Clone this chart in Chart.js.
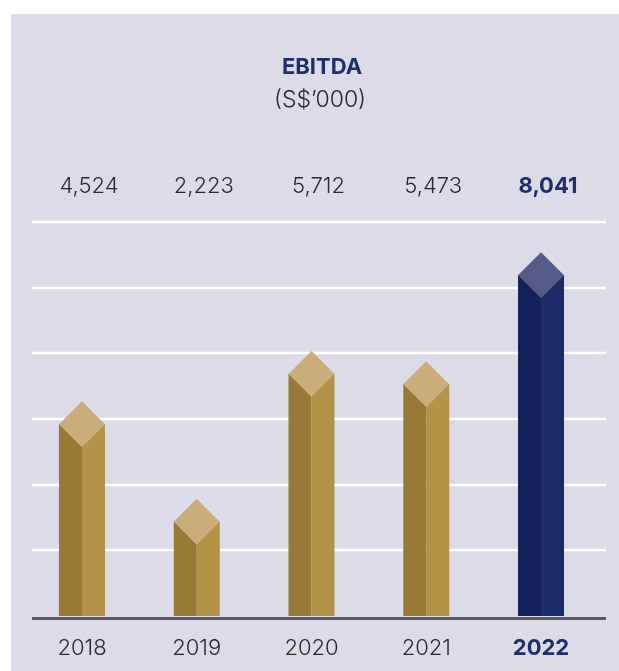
<!DOCTYPE html>
<html>
<head>
<meta charset="utf-8">
<script src="https://cdn.jsdelivr.net/npm/chart.js@4.4.1/dist/chart.umd.min.js"></script>
<style>
  html, body { margin: 0; padding: 0; background: #ffffff; }
  #wrap { position: relative; width: 619px; height: 671px; }
  canvas { display: block; }
</style>
</head>
<body>
<div id="wrap"><canvas id="c" width="619" height="671"></canvas></div>
<script>
// ---- data ----
const years = ['2018', '2019', '2020', '2021', '2022'];
const ebitda = [4524, 2223, 5712, 5473, 8041];
const valueLabels = ['4,524', '2,223', '5,712', '5,473', '8,041'];
const highlight = [false, false, false, false, true];
const chartTitle = 'EBITDA';
const chartSubtitle = '(S$\u2019000)';
const yMax = 9300;
const yStep = 1550;

// ---- styles ----
const FONT = 'Inter, Lato, "Open Sans", sans-serif';
const PANEL = '#dcdce8';
const NAVY_TEXT = '#1f2e6c';
const TEXT = '#2a2a2e';
const gold = { left: '#967a36', right: '#b39446', top: '#c9ae79' };
const navy = { left: '#14215a', right: '#1d2b68', top: '#555a89' };

const prismPlugin = {
  id: 'prism',
  beforeDraw(chart) {
    const ctx = chart.ctx;
    ctx.save();
    ctx.fillStyle = '#ffffff';
    ctx.fillRect(0, 0, chart.width, chart.height);
    ctx.fillStyle = PANEL;
    ctx.fillRect(11, 14, chart.width - 11, chart.height - 14);
    // gridlines from y scale ticks
    const ys = chart.scales.y;
    const gx0 = 32, gx1 = 606;
    ctx.strokeStyle = '#ffffff';
    ctx.lineWidth = 2.5;
    ys.ticks.forEach(t => {
      if (t.value === 0) return;
      const py = Math.round(ys.getPixelForValue(t.value));
      ctx.beginPath();
      ctx.moveTo(gx0, py);
      ctx.lineTo(gx1, py);
      ctx.stroke();
    });
    // titles
    ctx.textAlign = 'center';
    ctx.textBaseline = 'middle';
    ctx.fillStyle = NAVY_TEXT;
    ctx.font = 'bold 22px ' + FONT;
    ctx.fillText(chartTitle, 322, 67);
    ctx.fillStyle = TEXT;
    ctx.font = '300 23px ' + FONT;
    ctx.fillText(chartSubtitle, 320, 100);
    ctx.restore();
  },
  afterDatasetsDraw(chart) {
    const ctx = chart.ctx;
    const meta = chart.getDatasetMeta(0);
    const ys = chart.scales.y;
    const base = ys.getPixelForValue(0);
    ctx.save();
    meta.data.forEach((bar, i) => {
      const c = highlight[i] ? navy : gold;
      const { x, y, width } = bar.getProps(['x', 'y', 'width'], true);
      const h = width / 2;
      // faces
      ctx.fillStyle = c.left;
      ctx.fillRect(x - h, y, h, base - y);
      ctx.fillStyle = c.right;
      ctx.fillRect(x, y, h, base - y);
      // diamond top
      ctx.fillStyle = c.top;
      ctx.beginPath();
      ctx.moveTo(x, y - h);
      ctx.lineTo(x + h, y);
      ctx.lineTo(x, y + h);
      ctx.lineTo(x - h, y);
      ctx.closePath();
      ctx.fill();
      // value labels
      ctx.textAlign = 'center';
      ctx.textBaseline = 'middle';
      ctx.fillStyle = highlight[i] ? NAVY_TEXT : TEXT;
      ctx.font = (highlight[i] ? 'bold ' : '300 ') + '22px ' + FONT;
      ctx.fillText(valueLabels[i], x + 7, 186);
      // year labels
      ctx.font = (highlight[i] ? 'bold ' : '300 ') + '22px ' + FONT;
      ctx.fillText(years[i], x, 648);
    });
    // baseline
    ctx.fillStyle = '#5a5a5e';
    ctx.fillRect(32, base + 1, 574, 3);
    ctx.restore();
  }
};

new Chart(document.getElementById('c'), {
  type: 'bar',
  data: {
    labels: years,
    datasets: [{
      data: ebitda,
      backgroundColor: 'rgba(0,0,0,0)',
      borderWidth: 0,
      barThickness: 46
    }]
  },
  options: {
    responsive: false,
    animation: false,
    layout: { padding: { left: 24.6, right: 20.6, top: 222, bottom: 55 } },
    plugins: { legend: { display: false }, tooltip: { enabled: false }, title: { display: false } },
    scales: {
      x: { display: false },
      y: { display: false, min: 0, max: yMax, ticks: { stepSize: yStep } }
    }
  },
  plugins: [prismPlugin]
});
</script>
</body>
</html>
